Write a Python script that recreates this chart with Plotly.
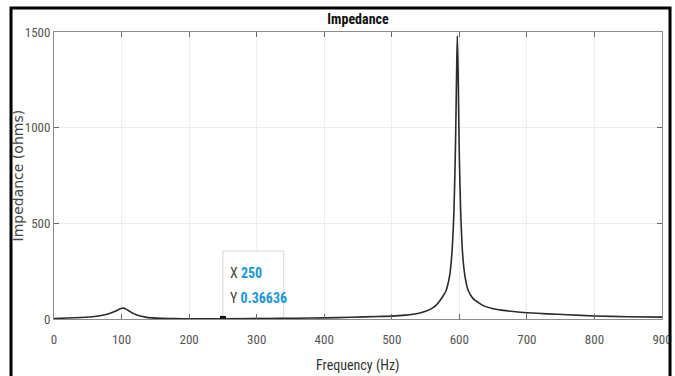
import plotly.graph_objects as go

# Frequency (Hz) and impedance (ohms)
freq = [0, 20, 40, 60, 70, 80, 88, 94, 98, 101, 103, 105, 108, 112, 118, 125, 135, 145, 160, 180, 200,
        225, 250, 280, 320, 360, 400, 440, 480, 500, 520, 540, 550, 560, 565, 570, 575, 580, 583,
        586, 588, 590, 592, 594, 595, 596, 597, 598, 599, 600, 602, 604, 606, 609, 613, 620,
        630, 638, 650, 665, 680, 700, 730, 760, 800, 850, 900]
imped = [3, 5, 8, 13, 18, 26, 36, 46, 53, 56, 57, 55, 49, 40, 28, 18, 10, 6, 3.5, 2, 1.2,
         0.7, 0.37, 1.2, 2.5, 4, 6, 9, 13, 15, 20, 30, 40, 57, 70, 90, 115, 145, 180,
         235, 300, 400, 560, 850, 1060, 1300, 1480, 1330, 1080, 850, 560, 390, 290, 210, 150, 108,
         82, 66, 54, 45, 39, 33, 27, 22, 16, 12, 10]

x_ticks = [0, 100, 200, 300, 400, 500, 600, 700, 800, 900]
y_ticks = [0, 500, 1000, 1500]

tip_x = 250
tip_y = 0.36636

narrow = "Liberation Sans Narrow, Arial Narrow, Roboto Condensed, Liberation Sans, Arial"

fig = go.Figure()
fig.add_trace(go.Scatter(x=freq, y=imped, mode="lines", line_shape="spline",
                         line=dict(color="#2b2b2b", width=1.6, smoothing=0.6), hoverinfo="skip"))
fig.add_trace(go.Scatter(x=[tip_x], y=[tip_y], mode="markers",
                         marker=dict(symbol="square", size=5, color="#1f1f10",
                                     line=dict(color="#000", width=1)), hoverinfo="skip"))

# datatip box
fig.add_shape(type="rect", xref="x", yref="y", x0=250, x1=340, y0=6, y1=355,
              fillcolor="white", line=dict(color="#d6d6d6", width=1), layer="between")
fig.add_annotation(x=257, y=242, xref="x", yref="y", xanchor="left", yanchor="middle",
                   showarrow=False, align="left",
                   text="X <span style='color:#1a96d9'><b>" + str(tip_x) + "</b></span>",
                   font=dict(family=narrow, size=14, color="#444"))
fig.add_annotation(x=257, y=110, xref="x", yref="y", xanchor="left", yanchor="middle",
                   showarrow=False, align="left",
                   text="Y <span style='color:#1a96d9'><b>" + str(tip_y) + "</b></span>",
                   font=dict(family=narrow, size=14, color="#444"))

# y axis title placed as annotation
fig.add_annotation(x=-37 / 608, y=0.5, xref="paper", yref="paper", xanchor="center",
                   yanchor="middle", textangle=-90, showarrow=False,
                   text="Impedance (ohms)",
                   font=dict(family="DejaVu Sans, Verdana", size=14, color="#444"))

# x axis title placed as annotation
fig.add_annotation(x=0.5, y=(319 - 365) / 287, xref="paper", yref="paper", xanchor="center",
                   yanchor="middle", showarrow=False,
                   text="Frequency (Hz)",
                   font=dict(family=narrow, size=14, color="#333"))

# outer black frame
fig.add_shape(type="rect", xref="paper", yref="paper",
              x0=-0.0707, x1=1.0132, y0=-0.205, y1=1.0836,
              line=dict(color="black", width=3), fillcolor="rgba(0,0,0,0)")

axis_common = dict(showgrid=True, gridcolor="#ededed", gridwidth=1, automargin=False,
                   showline=True, linecolor="#8c8c8c", linewidth=1, mirror="ticks",
                   ticks="inside", ticklen=5, tickcolor="#666", zeroline=False,
                   tickfont=dict(family=narrow, size=13, color="#555"))

fig.update_layout(
    width=675, height=376,
    margin=dict(l=54, r=13, t=32, b=57),
    paper_bgcolor="white", plot_bgcolor="white",
    showlegend=False,
    title=dict(text="<b>Impedance</b>", x=0.5, xref="paper", xanchor="center",
               y=1 - 19 / 376, yref="container", yanchor="middle",
               font=dict(family=narrow, size=14, color="#111")),
    xaxis=dict(range=[0, 900], tickvals=x_ticks, ticktext=[str(v) for v in x_ticks],
               ticklabelstandoff=8, **axis_common),
    yaxis=dict(range=[0, 1500], tickvals=y_ticks, ticktext=[str(v) for v in y_ticks],
               **axis_common),
)

fig.write_html("out.html")
